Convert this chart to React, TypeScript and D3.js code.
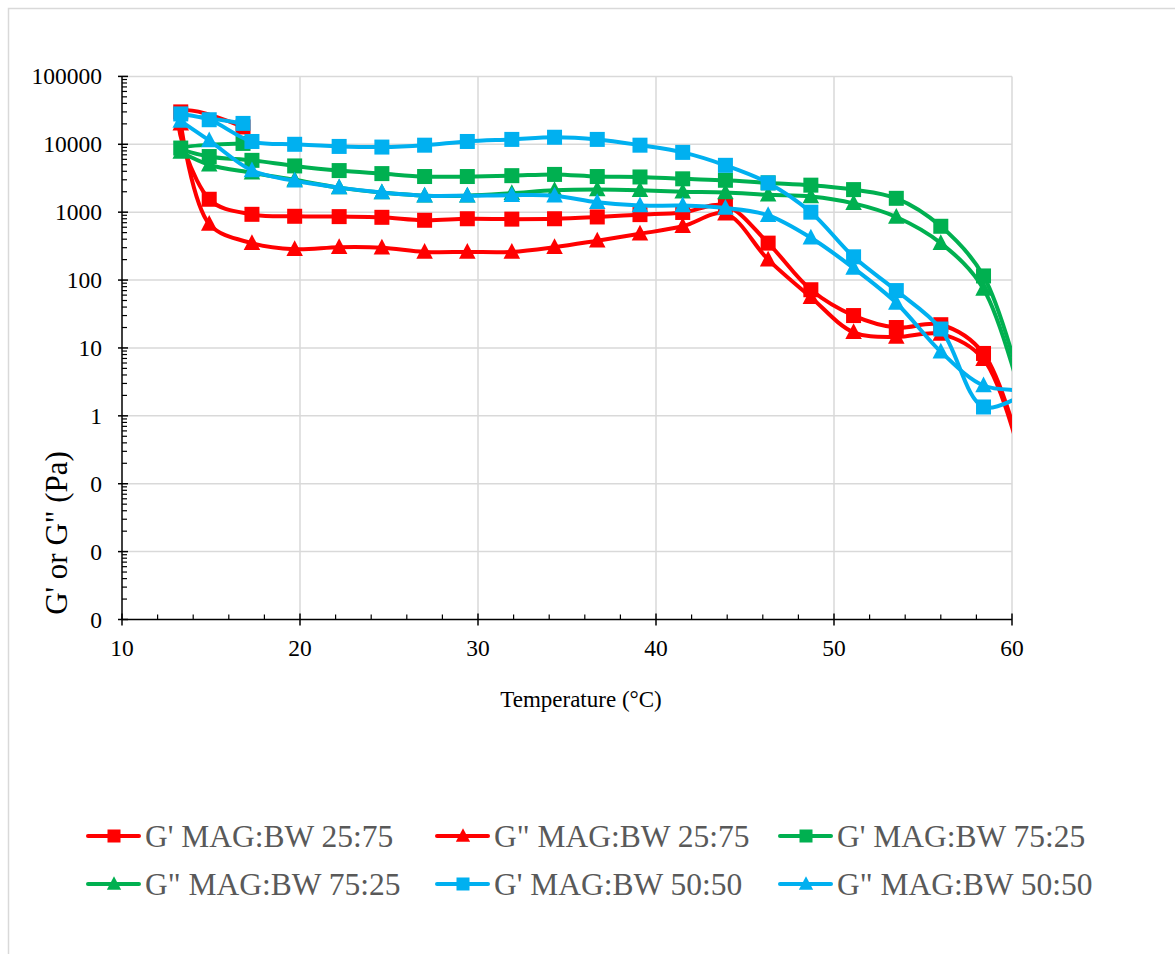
import React from "react";
import * as d3 from "d3";

// Temperatures (°C). The G' runs begin with one reading at 16.8 °C taken before the 13.3 °C start.
const tempGPrime = [16.8, 13.3, 14.9, 17.3, 19.7, 22.2, 24.6, 27.0, 29.4, 31.9, 34.3, 36.7, 39.1, 41.5, 43.9, 46.3, 48.7, 51.1, 53.5, 56.0, 58.4, 60.8];
const tempGDouble = [13.3, 14.9, 17.3, 19.7, 22.2, 24.6, 27.0, 29.4, 31.9, 34.3, 36.7, 39.1, 41.5, 43.9, 46.3, 48.7, 51.1, 53.5, 56.0, 58.4, 60.8];

// Moduli (Pa)
const gPrime2575 = [18000, 30000, 1550, 930, 870, 860, 840, 760, 800, 790, 800, 850, 920, 990, 1250, 350, 72, 30, 20, 22, 8.3, 0.15];
const gDouble2575 = [20000, 670, 350, 285, 305, 300, 260, 260, 260, 305, 380, 480, 620, 950, 200, 56, 17, 14.5, 16, 6.8, 0.12];
const gPrime7525 = [10300, 8800, 6600, 5800, 4800, 4100, 3700, 3350, 3350, 3450, 3600, 3350, 3300, 3100, 2950, 2700, 2500, 2150, 1600, 620, 115, 1.5];
const gDouble7525 = [7700, 5000, 3800, 3000, 2300, 1950, 1750, 1750, 1900, 2100, 2150, 2100, 2000, 1950, 1800, 1700, 1350, 850, 350, 74, 1.0];
const gPrime5050 = [20300, 28000, 23000, 11000, 10000, 9300, 9100, 9700, 11000, 11800, 12700, 11800, 9700, 7600, 4900, 2700, 1000, 220, 70, 19, 1.35, 2.2];
const gDouble5050 = [22000, 11400, 4100, 2900, 2300, 1950, 1750, 1750, 1780, 1750, 1400, 1250, 1250, 1150, 900, 420, 150, 46, 8.8, 2.8, 2.4];

const seriesNames = [
  "G' MAG:BW 25:75",
  'G" MAG:BW 25:75',
  "G' MAG:BW 75:25",
  'G" MAG:BW 75:25',
  "G' MAG:BW 50:50",
  'G" MAG:BW 50:50',
];
const seriesColors = ["#FF0000", "#FF0000", "#00B050", "#00B050", "#00B0F0", "#00B0F0"];
const seriesShapes = ["square", "triangle", "square", "triangle", "square", "triangle"];
const seriesTemps = [tempGPrime, tempGDouble, tempGPrime, tempGDouble, tempGPrime, tempGDouble];
const seriesValues = [gPrime2575, gDouble2575, gPrime7525, gDouble7525, gPrime5050, gDouble5050];

const xTicks = [10, 20, 30, 40, 50, 60];
const yTicks = [0.001, 0.01, 0.1, 1, 10, 100, 1000, 10000, 100000];

const W = 1175;
const H = 954;
const FONT = "'Liberation Serif', 'Times New Roman', serif";

const x = d3.scaleLinear().domain([10, 60]).range([122, 1012]);
const y = d3.scaleLog().domain([0.001, 100000]).range([619.5, 76.4]);

const line = d3
  .line<[number, number]>()
  .x((d) => x(d[0]))
  .y((d) => y(d[1]))
  .curve(d3.curveCatmullRom.alpha(0.5));

function Marker({ shape, cx, cy, color, size }: { shape: string; cx: number; cy: number; color: string; size: number }) {
  if (shape === "square") {
    return <rect x={cx - size / 2} y={cy - size / 2} width={size} height={size} fill={color} />;
  }
  const w = size * 1.1;
  const h = size;
  return (
    <path
      d={`M${cx},${cy - h * 0.6} L${cx + w / 2},${cy + h * 0.45} L${cx - w / 2},${cy + h * 0.45} Z`}
      fill={color}
    />
  );
}

function fmtY(v: number) {
  return d3.format(".0f")(v);
}

export default function App() {
  const [x0, x1] = x.range();
  const [yBottom, yTop] = y.range();

  const minorY: number[] = [];
  for (let i = 0; i < yTicks.length - 1; i++) {
    for (let k = 2; k <= 9; k++) minorY.push(yTicks[i] * k);
  }
  const minorX = d3.range(12, 60, 2).filter((v) => v % 10 !== 0);

  const legendCols = [88, 437, 780];
  const legendRows = [836, 884];

  return (
    <svg
      width={W}
      height={H}
      style={{ position: "absolute", left: 0, top: 0, background: "#fff" }}
      fontFamily={FONT}
    >
      <defs>
        <clipPath id="plotClip">
          <rect x={x0} y={0} width={x1 - x0} height={H} />
        </clipPath>
      </defs>
      <rect x={8.5} y={8.5} width={W} height={H} fill="#fff" stroke="#d9d9d9" strokeWidth={1.5} />

      {/* gridlines */}
      {yTicks.slice(1).map((t) => (
        <line key={"gy" + t} x1={x0} x2={x1} y1={y(t)} y2={y(t)} stroke="#d9d9d9" strokeWidth={1.5} />
      ))}
      {xTicks.slice(1).map((t) => (
        <line key={"gx" + t} x1={x(t)} x2={x(t)} y1={yTop} y2={yBottom} stroke="#d9d9d9" strokeWidth={1.5} />
      ))}

      {/* axes */}
      <line x1={x0} x2={x0} y1={yTop} y2={yBottom} stroke="#000" strokeWidth={1.5} />
      <line x1={x0} x2={x1} y1={yBottom} y2={yBottom} stroke="#000" strokeWidth={1.5} />
      {yTicks.map((t) => (
        <line key={"ty" + t} x1={x0 - 4} x2={x0 + 6} y1={y(t)} y2={y(t)} stroke="#000" strokeWidth={1.5} />
      ))}
      {minorY.map((t, i) => (
        <line key={"my" + i} x1={x0} x2={x0 + 5} y1={y(t)} y2={y(t)} stroke="#000" strokeWidth={1.2} />
      ))}
      {xTicks.map((t) => (
        <line key={"tx" + t} x1={x(t)} x2={x(t)} y1={yBottom - 6} y2={yBottom + 6} stroke="#000" strokeWidth={1.5} />
      ))}
      {minorX.map((t) => (
        <line key={"mx" + t} x1={x(t)} x2={x(t)} y1={yBottom - 5} y2={yBottom} stroke="#000" strokeWidth={1.2} />
      ))}

      {/* tick labels */}
      {yTicks.map((t) => (
        <text key={"ly" + t} x={102} y={y(t) + 8} fontSize={23.5} textAnchor="end" fill="#000">
          {fmtY(t)}
        </text>
      ))}
      {xTicks.map((t) => (
        <text key={"lx" + t} x={x(t)} y={656} fontSize={23.5} textAnchor="middle" fill="#000">
          {t}
        </text>
      ))}

      {/* axis titles */}
      <text x={581} y={707} fontSize={23} textAnchor="middle" fill="#000">
        Temperature (°C)
      </text>
      <text transform="translate(67,533) rotate(-90)" fontSize={31} textAnchor="middle" fill="#000">
        G' or G" (Pa)
      </text>

      {/* series */}
      {seriesNames.map((name, si) => {
        const pts: [number, number][] = seriesTemps[si].map((t, i) => [t, seriesValues[si][i]]);
        return (
          <g key={name}>
            <path d={line(pts) || ""} fill="none" stroke={seriesColors[si]} strokeWidth={4} clipPath="url(#plotClip)" />
            {pts
              .filter((p) => p[0] <= 60)
              .map((p, i) => (
                <Marker key={i} shape={seriesShapes[si]} cx={x(p[0])} cy={y(p[1])} color={seriesColors[si]} size={15} />
              ))}
          </g>
        );
      })}

      {/* legend */}
      {seriesNames.map((name, si) => {
        const col = legendCols[si % 3];
        const row = legendRows[Math.floor(si / 3)];
        return (
          <g key={"leg" + name}>
            <line x1={col} x2={col + 51} y1={row} y2={row} stroke={seriesColors[si]} strokeWidth={4} strokeLinecap="round" />
            <Marker shape={seriesShapes[si]} cx={col + 26} cy={row} color={seriesColors[si]} size={13} />
            <text x={col + 57} y={row + 11} fontSize={31.5} fill="#595959">
              {name}
            </text>
          </g>
        );
      })}
    </svg>
  );
}
